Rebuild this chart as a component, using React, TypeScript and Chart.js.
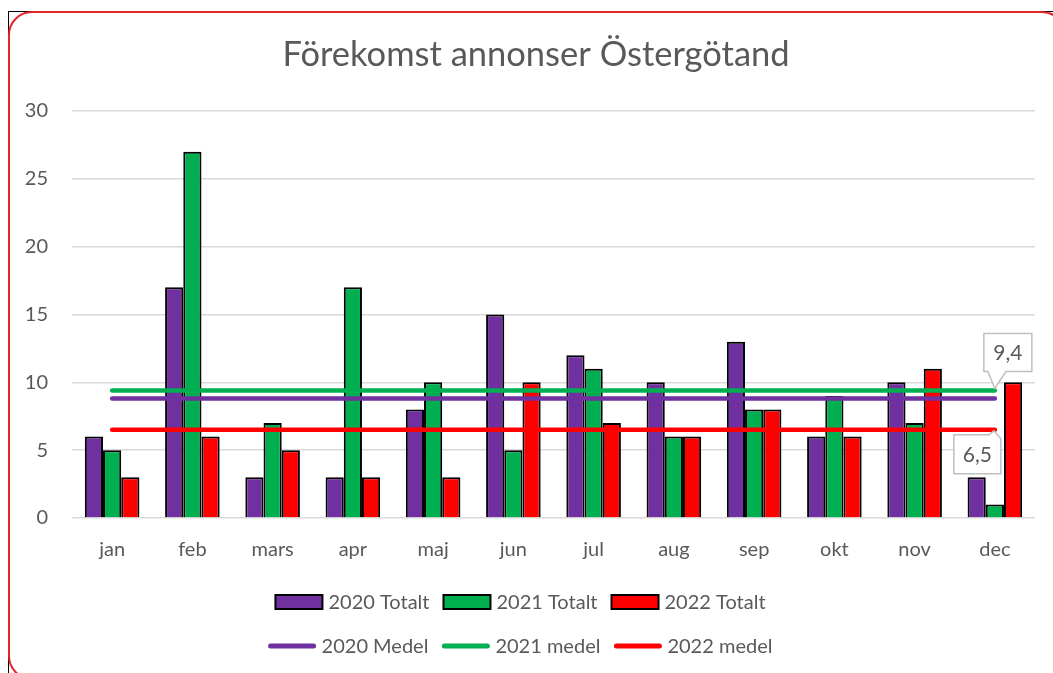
import React, { useEffect, useRef } from "react";
import { Chart, registerables } from "chart.js";

Chart.register(...registerables);

const titleText = "Förekomst annonser Östergötand";
const months = ["jan", "feb", "mars", "apr", "maj", "jun", "jul", "aug", "sep", "okt", "nov", "dec"];
const total2020 = [6, 17, 3, 3, 8, 15, 12, 10, 13, 6, 10, 3];
const total2021 = [5, 27, 7, 17, 10, 5, 11, 6, 8, 9, 7, 1];
const total2022 = [3, 6, 5, 3, 3, 10, 7, 6, 8, 6, 11, 10];
const medel2020 = [8.8, 8.8, 8.8, 8.8, 8.8, 8.8, 8.8, 8.8, 8.8, 8.8, 8.8, 8.8];
const medel2021 = [9.4, 9.4, 9.4, 9.4, 9.4, 9.4, 9.4, 9.4, 9.4, 9.4, 9.4, 9.4];
const medel2022 = [6.5, 6.5, 6.5, 6.5, 6.5, 6.5, 6.5, 6.5, 6.5, 6.5, 6.5, 6.5];
const yTicks = [0, 5, 10, 15, 20, 25, 30];

const PURPLE = "#7030A0";
const GREEN = "#00B050";
const RED = "#FF0000";
const TEXT = "#595959";
const FONT = "Lato, 'Open Sans', sans-serif";

const fmt = (v: number) => v.toFixed(1).replace(".", ",");

const titlePlugin = {
  id: "titlePlugin",
  afterDraw(chart: any) {
    const ctx = chart.ctx;
    ctx.save();
    ctx.font = `34.5px ${FONT}`;
    ctx.fillStyle = TEXT;
    ctx.textAlign = "center";
    ctx.textBaseline = "middle";
    ctx.fillText(titleText, 536, 55);
    ctx.restore();
  },
};

const legendPlugin = {
  id: "legendPlugin",
  afterDraw(chart: any) {
    const ctx = chart.ctx;
    const ds = chart.data.datasets;
    ctx.save();
    ctx.font = `20px ${FONT}`;
    ctx.textBaseline = "middle";
    ctx.textAlign = "left";
    const symW = 49;
    const gap = 5;
    const itemGap = 13;
    const rows = [
      { y: 602, items: [0, 1, 2] },
      { y: 646, items: [3, 4, 5] },
    ];
    rows.forEach((row) => {
      const widths = row.items.map((i) => symW + gap + ctx.measureText(ds[i].label).width);
      const total = widths.reduce((a, b) => a + b, 0) + itemGap * (widths.length - 1);
      let x = 520 - total / 2;
      row.items.forEach((i, k) => {
        const d = ds[i];
        if (d.type === "bar") {
          ctx.fillStyle = d.backgroundColor;
          ctx.fillRect(x + 1, row.y - 7, symW - 2, 14);
          ctx.strokeStyle = "#000";
          ctx.lineWidth = 2;
          ctx.strokeRect(x + 1, row.y - 7, symW - 2, 14);
        } else {
          ctx.strokeStyle = d.borderColor;
          ctx.lineWidth = 5;
          ctx.lineCap = "round";
          ctx.beginPath();
          ctx.moveTo(x + 3, row.y);
          ctx.lineTo(x + symW - 3, row.y);
          ctx.stroke();
        }
        ctx.fillStyle = TEXT;
        ctx.fillText(d.label, x + symW + gap, row.y + 1);
        x += widths[k] + itemGap;
      });
    });
    ctx.restore();
  },
};

const calloutPlugin = {
  id: "calloutPlugin",
  afterDatasetsDraw(chart: any) {
    const ctx = chart.ctx;
    ctx.save();
    ctx.font = `21px ${FONT}`;
    ctx.textAlign = "center";
    ctx.textBaseline = "middle";
    ctx.lineWidth = 1.5;
    ctx.strokeStyle = "#BFBFBF";
    {
      const idx = 4;
      const pts = chart.getDatasetMeta(idx).data;
      const p = pts[pts.length - 1];
      const vals = chart.data.datasets[idx].data;
      const px = p.x, py = p.y;
      const L = px - 11, R = px + 37, T = py - 57, B = py - 19;
      ctx.beginPath();
      ctx.moveTo(L, T);
      ctx.lineTo(R, T);
      ctx.lineTo(R, B);
      ctx.lineTo(px + 11, B);
      ctx.lineTo(px, py - 2);
      ctx.lineTo(px - 7, B);
      ctx.lineTo(L, B);
      ctx.closePath();
      ctx.fillStyle = "#fff";
      ctx.fill();
      ctx.stroke();
      ctx.fillStyle = TEXT;
      ctx.fillText(fmt(vals[vals.length - 1]), (L + R) / 2, (T + B) / 2 + 1);
    }
    {
      const idx = 5;
      const pts = chart.getDatasetMeta(idx).data;
      const p = pts[pts.length - 1];
      const vals = chart.data.datasets[idx].data;
      const px = p.x, py = p.y;
      const L = px - 41, R = px + 6, T = py + 5, B = py + 44;
      ctx.beginPath();
      ctx.moveTo(L, T);
      ctx.lineTo(px - 6, T);
      ctx.lineTo(px - 1, py + 1);
      ctx.lineTo(R, T + 4);
      ctx.lineTo(R, B);
      ctx.lineTo(L, B);
      ctx.closePath();
      ctx.fillStyle = "#fff";
      ctx.fill();
      ctx.stroke();
      ctx.fillStyle = TEXT;
      ctx.fillText(fmt(vals[vals.length - 1]), (L + R) / 2, (T + B) / 2 + 1);
    }
    ctx.restore();
  },
};

export default function App() {
  const ref = useRef<HTMLCanvasElement | null>(null);

  useEffect(() => {
    if (!ref.current) return;
    const barCommon = {
      type: "bar" as const,
      borderColor: "#000",
      borderWidth: 2,
      borderSkipped: "bottom" as const,
      barPercentage: 1,
      categoryPercentage: 0.68,
      order: 2,
    };
    const lineCommon = {
      type: "line" as const,
      borderWidth: 4.5,
      pointRadius: 0,
      borderCapStyle: "round" as const,
      fill: false,
      tension: 0,
      order: 1,
    };
    const chart = new Chart(ref.current, {
      type: "bar",
      data: {
        labels: months,
        datasets: [
          { ...barCommon, label: "2020 Totalt", data: total2020, backgroundColor: PURPLE },
          { ...barCommon, label: "2021 Totalt", data: total2021, backgroundColor: GREEN },
          { ...barCommon, label: "2022 Totalt", data: total2022, backgroundColor: RED },
          { ...lineCommon, label: "2020 Medel", data: medel2020, borderColor: PURPLE, backgroundColor: PURPLE },
          { ...lineCommon, label: "2021 medel", data: medel2021, borderColor: GREEN, backgroundColor: GREEN },
          { ...lineCommon, label: "2022 medel", data: medel2022, borderColor: RED, backgroundColor: RED },
        ] as any,
      },
      options: {
        animation: false,
        responsive: false,
        maintainAspectRatio: false,
        layout: { padding: { left: 0, right: 18, top: 111, bottom: 105 } },
        plugins: {
          legend: { display: false },
          title: { display: false },
          tooltip: { enabled: false },
        },
        scales: {
          x: {
            offset: true,
            grid: { display: false, drawTicks: false },
            border: { display: false },
            ticks: { color: TEXT, font: { family: FONT, size: 20 }, padding: 20, maxRotation: 0 },
            afterFit: (s: any) => { s.height = 50; },
          },
          y: {
            min: 0,
            max: 30,
            afterBuildTicks: (s: any) => { s.ticks = yTicks.map((v) => ({ value: v })); },
            grid: { color: "#D9D9D9", lineWidth: 1.5, drawTicks: false },
            border: { display: false },
            ticks: { color: TEXT, font: { family: FONT, size: 20 }, padding: 24 },
            afterFit: (s: any) => { s.width = 72; },
          },
        },
      },
      plugins: [titlePlugin, legendPlugin, calloutPlugin],
    });
    return () => chart.destroy();
  }, []);

  return (
    <div style={{ position: "fixed", left: 0, top: 0, width: 1053, height: 673, overflow: "hidden", background: "#fff" }}>
      <div style={{ position: "absolute", left: 8, top: 11, width: 1100, height: 700, border: "1px solid #000", boxSizing: "border-box" }} />
      <div
        style={{
          position: "absolute",
          left: 8,
          top: 11,
          width: 1058,
          height: 669,
          border: "2px solid #E0262A",
          borderRadius: 24,
          background: "#fff",
          boxSizing: "border-box",
        }}
      />
      <canvas ref={ref} width={1053} height={673} style={{ position: "absolute", left: 0, top: 0, width: 1053, height: 673 }} />
    </div>
  );
}
